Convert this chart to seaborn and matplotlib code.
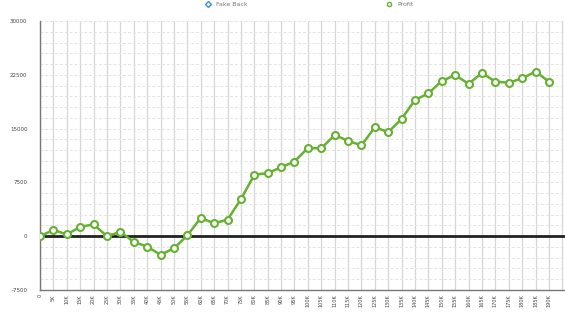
import matplotlib
matplotlib.use("Agg")
import matplotlib.pyplot as plt
from matplotlib.lines import Line2D
import seaborn as sns
import pandas as pd
import numpy as np

x_labels = ["0"] + [f"{k}K" for k in range(5, 195, 5)]
x_values = list(range(0, 195000, 5000))
profit = [0, 880, 250, 1300, 1650, 0, 600, -790, -1450, -2580, -1700, 100,
          2550, 1800, 2300, 5150, 8550, 8800, 9600, 10400, 12300, 12250,
          14100, 13300, 12650, 15200, 14500, 16350, 19000, 19900, 21650,
          22450, 21250, 22750, 21550, 21400, 22000, 22950, 21550]
y_ticks = [-7500, 0, 7500, 15000, 22500, 30000]
legend_labels = ["Fake Back", "Profit"]

green = "#66b032"
blue = "#3f8fd8"

sns.set_style("white")
plt.rcParams['font.family'] = ['DejaVu Sans']

fig = plt.figure(figsize=(5.65, 3.19), dpi=100)
ax = fig.add_axes([40/565, 1-290/319, 525/565, (290-21)/319])

df = pd.DataFrame({"x": x_values, "Profit": profit})

# grid
for xv in x_values + [195000]:
    ax.axvline(xv, color="#d6d6d6", lw=0.9, zorder=0)
for yv in np.arange(-7500, 30001, 1500):
    ax.axhline(yv, color="#e4e4e4", lw=0.7, ls=(0, (3, 2)), zorder=0)
ax.axhline(0, color="#222222", lw=2.0, zorder=1)

sns.lineplot(data=df, x="x", y="Profit", ax=ax, color=green, lw=1.8,
             marker="o", markersize=5, markerfacecolor="white",
             markeredgecolor=green, markeredgewidth=1.5, zorder=3)

ax.set_xlim(0, 196000)
ax.set_ylim(-7500, 30000)
ax.set_xticks(x_values)
ax.set_xticklabels(x_labels, rotation=90, fontsize=3.6, color="#444444")
ax.set_yticks(y_ticks)
ax.set_yticklabels([str(v) for v in y_ticks], fontsize=4.0, color="#444444")
ax.tick_params(axis="y", length=3, width=0.8, color="#666666", pad=6)
ax.tick_params(axis="x", length=0, pad=3)
ax.set_xlabel("")
ax.set_ylabel("")
for s in ["top", "right"]:
    ax.spines[s].set_visible(False)
for s in ["left", "bottom"]:
    ax.spines[s].set_color("#777777")
    ax.spines[s].set_linewidth(1.0)

handles = [
    Line2D([], [], color=blue, marker="D", markersize=3, markerfacecolor="white",
           markeredgecolor=blue, lw=0),
    Line2D([], [], color=green, marker="o", markersize=3, markerfacecolor="white",
           markeredgecolor=green, lw=0),
]
fig.legend(handles, legend_labels, loc="upper center", bbox_to_anchor=(0.545, 1.012),
           ncol=2, frameon=False, fontsize=4.5, columnspacing=21.6, handletextpad=0.3,
           labelcolor="#777777")

fig.savefig("out.png", dpi=100)
